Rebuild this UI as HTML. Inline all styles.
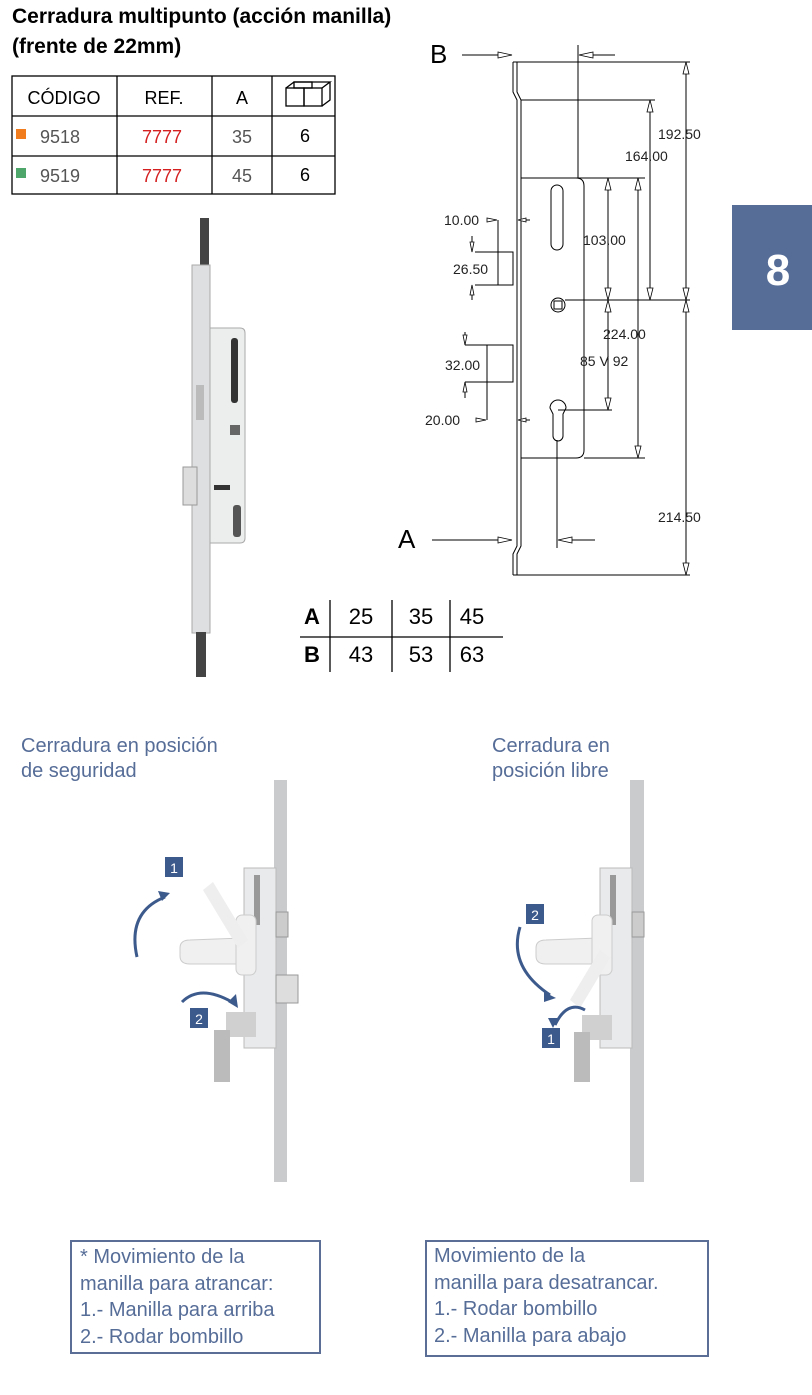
<!DOCTYPE html>
<html><head><meta charset="utf-8"><style>
body{margin:0;width:812px;height:1395px;background:#fff;position:relative;overflow:hidden;font-family:"Liberation Sans",Arial,sans-serif}
.t{position:absolute}
</style></head><body>
<div class="t" style="left:12px;top:2px;font-weight:bold;font-size:21px;line-height:30px;color:#000">Cerradura multipunto (acción manilla)<br>(frente de 22mm)</div>
<svg width="812" height="1395" style="position:absolute;left:0;top:0" font-family="Liberation Sans, Arial, sans-serif">
<g stroke="#000" stroke-width="1.3" fill="none">
<rect x="12" y="76" width="323" height="118"/>
<line x1="12" y1="116" x2="335" y2="116"/><line x1="12" y1="156" x2="335" y2="156"/>
<line x1="117" y1="76" x2="117" y2="194"/><line x1="212" y1="76" x2="212" y2="194"/><line x1="272" y1="76" x2="272" y2="194"/>
<rect x="286" y="88" width="18" height="18"/><rect x="304" y="88" width="18" height="18"/><path d="M286 88 l8 -6 h36 l-8 6 M330 82 v18 l-8 6"/>
<rect x="294" y="82" width="18" height="6"/>
</g>
<g font-size="18" text-anchor="middle">
<text x="64" y="104">CÓDIGO</text><text x="164" y="104">REF.</text><text x="242" y="104">A</text>
<text x="60" y="143" fill="#555">9518</text><text x="162" y="143" fill="#d42020">7777</text><text x="242" y="143" fill="#555">35</text><text x="305" y="142">6</text>
<text x="60" y="182" fill="#555">9519</text><text x="162" y="182" fill="#d42020">7777</text><text x="242" y="182" fill="#555">45</text><text x="305" y="181">6</text>
</g>
<rect x="16" y="129" width="10" height="10" fill="#f07c1e"/><rect x="16" y="168" width="10" height="10" fill="#4fa66a"/>
<rect x="732" y="205" width="80" height="125" fill="#566d98"/>
<text x="778" y="285" font-size="44" font-weight="bold" fill="#fff" text-anchor="middle">8</text>
<!-- lock photo left -->
<g>
<path d="M200 218 h9 v48 h-9z" fill="#444"/>
<rect x="192" y="265" width="18" height="368" fill="#dedfe0" stroke="#aaa"/>
<path d="M210 328 h30 q5 0 5 5 v205 q0 5 -5 5 h-30z" fill="#eceded" stroke="#aaa"/>
<rect x="231" y="338" width="7" height="65" rx="3" fill="#333"/>
<rect x="196" y="385" width="8" height="35" fill="#bbb"/>
<rect x="183" y="467" width="14" height="38" fill="#ddd" stroke="#999"/>
<rect x="230" y="425" width="10" height="10" fill="#666"/>
<rect x="214" y="485" width="16" height="5" fill="#333"/>
<rect x="233" y="505" width="8" height="32" rx="3" fill="#555"/>
<path d="M196 632 h10 v45 h-10z" fill="#444"/>
</g>
<g stroke="#000" stroke-width="1" fill="none">
<path d="M513 62 v30 l4 8 v446 l-4 8 v21 M517 62 v30 l4 8 v446 l-4 8 v21"/>
<line x1="513" y1="62" x2="517" y2="62"/><line x1="513" y1="575" x2="517" y2="575"/>
<line x1="517" y1="62" x2="690" y2="62"/>
<line x1="521" y1="100" x2="655" y2="100"/>
<path d="M521 178 h55 q8 0 8 8 v264 q0 8 -8 8 h-55"/>
<line x1="576" y1="178" x2="615" y2="178"/><line x1="584" y1="178" x2="645" y2="178"/>
<line x1="584" y1="458" x2="645" y2="458"/>
<rect x="551" y="185" width="12" height="65" rx="6"/>
<circle cx="558" cy="305" r="7"/><rect x="554" y="301" width="8" height="8"/>
<line x1="565" y1="300" x2="690" y2="300"/>
<path d="M558 400 a8 8 0 0 1 8 8 l-3 6 v22 a5 5 0 0 1 -10 0 v-22 l-3 -6 a8 8 0 0 1 8 -8z"/>
<line x1="558" y1="410" x2="612" y2="410"/>
<line x1="557" y1="440" x2="557" y2="548"/>
<line x1="578" y1="45" x2="578" y2="178"/>
<line x1="517" y1="575" x2="690" y2="575"/>
<line x1="686" y1="62" x2="686" y2="575"/>
<line x1="650" y1="100" x2="650" y2="300"/>
<line x1="608" y1="178" x2="608" y2="410"/>
<line x1="638" y1="178" x2="638" y2="458"/>
<line x1="462" y1="55" x2="512" y2="55"/><line x1="582" y1="55" x2="615" y2="55"/>
<line x1="432" y1="540" x2="512" y2="540"/><line x1="560" y1="540" x2="595" y2="540"/>
<rect x="498" y="252" width="15" height="33"/>
<line x1="475" y1="252" x2="513" y2="252"/><line x1="475" y1="285" x2="513" y2="285"/>
<line x1="498" y1="220" x2="498" y2="252"/>
<rect x="487" y="345" width="26" height="37"/>
<line x1="465" y1="345" x2="487" y2="345"/><line x1="465" y1="382" x2="487" y2="382"/>
<line x1="487" y1="382" x2="487" y2="420"/>
<line x1="472" y1="236" x2="472" y2="252"/><line x1="472" y1="285" x2="472" y2="300"/>
<line x1="465" y1="332" x2="465" y2="345"/><line x1="465" y1="382" x2="465" y2="398"/>
<line x1="520" y1="220" x2="530" y2="220"/><line x1="520" y1="420" x2="530" y2="420"/>
</g>
<g fill="#fff" stroke="#000" stroke-width="0.8">
<path d="M512 55 l-14 -3 v6z"/><path d="M579 55 l14 -3 v6z"/>
<path d="M512 540 l-14 -3 v6z"/><path d="M558 540 l14 -3 v6z"/>
<path d="M686 62 l-3 12 h6z"/><path d="M686 300 l-3 -12 h6z"/><path d="M686 300 l-3 12 h6z"/><path d="M686 575 l-3 -12 h6z"/>
<path d="M650 100 l-3 12 h6z"/><path d="M650 300 l-3 -12 h6z"/>
<path d="M608 178 l-3 12 h6z"/><path d="M608 300 l-3 -12 h6z"/><path d="M608 300 l-3 12 h6z"/><path d="M608 410 l-3 -12 h6z"/>
<path d="M638 178 l-3 12 h6z"/><path d="M638 458 l-3 -12 h6z"/>
<path d="M497 220 l-10 -2 v4z"/><path d="M518 220 l8 -2 v4z"/><path d="M486 420 l-10 -2 v4z"/><path d="M518 420 l8 -2 v4z"/>
<path d="M472 252 l-2 -10 h4z"/><path d="M472 285 l-2 10 h4z"/><path d="M465 345 l-2 -10 h4z"/><path d="M465 382 l-2 10 h4z"/>
</g>
<g font-size="14" fill="#222">
<text x="658" y="139">192.50</text><text x="625" y="161">164.00</text>
<text x="583" y="245">103.00</text><text x="603" y="339">224.00</text><text x="580" y="366">85 V 92</text>
<text x="658" y="522">214.50</text>
<text x="444" y="225">10.00</text><text x="453" y="274">26.50</text><text x="445" y="370">32.00</text><text x="425" y="425">20.00</text>
</g>
<text x="430" y="63" font-size="26">B</text><text x="398" y="548" font-size="26">A</text>
<g stroke="#000" stroke-width="1.3"><line x1="300" y1="637" x2="503" y2="637"/><line x1="330" y1="600" x2="330" y2="672"/><line x1="392" y1="600" x2="392" y2="672"/><line x1="450" y1="600" x2="450" y2="672"/></g>
<g font-size="22" text-anchor="middle"><text x="312" y="624" font-weight="bold">A</text><text x="312" y="662" font-weight="bold">B</text>
<text x="361" y="624">25</text><text x="421" y="624">35</text><text x="472" y="624">45</text>
<text x="361" y="662">43</text><text x="421" y="662">53</text><text x="472" y="662">63</text></g>
<g>
<rect x="274" y="780" width="13" height="402" fill="#c9cbcd"/>
<rect x="244" y="868" width="32" height="180" fill="#e9eaeb" stroke="#bbb"/>
<rect x="254" y="875" width="6" height="50" fill="#999"/>
<rect x="276" y="912" width="12" height="25" fill="#ccc" stroke="#999"/>
<rect x="276" y="975" width="22" height="28" fill="#ddd" stroke="#999"/>
<path d="M190 940 q-10 0 -10 8 v8 q0 8 10 8 h52 v-26z" fill="#f0f0f0" stroke="#ccc"/>
<rect x="236" y="915" width="20" height="60" rx="6" fill="#f0f0f0" stroke="#ccc"/>
<path d="M203 890 l10 -8 l35 58 l-10 8z" fill="#eee"/>
<rect x="226" y="1012" width="30" height="25" fill="#d0d0d0"/>
<rect x="214" y="1030" width="16" height="52" fill="#bbb"/>
<rect x="630" y="780" width="14" height="402" fill="#c9cbcd"/>
<rect x="600" y="868" width="32" height="180" fill="#e9eaeb" stroke="#bbb"/>
<rect x="610" y="875" width="6" height="50" fill="#999"/>
<rect x="632" y="912" width="12" height="25" fill="#ccc" stroke="#999"/>
<path d="M546 940 q-10 0 -10 8 v8 q0 8 10 8 h52 v-26z" fill="#f0f0f0" stroke="#ccc"/>
<rect x="592" y="915" width="20" height="60" rx="6" fill="#f0f0f0" stroke="#ccc"/>
<path d="M570 1000 l10 8 l30 -50 l-10 -8z" fill="#eee"/>
<rect x="582" y="1015" width="30" height="25" fill="#d0d0d0"/>
<rect x="574" y="1032" width="16" height="50" fill="#bbb"/>
</g>
<g stroke="#3d5a8c" stroke-width="3" fill="none">
<path d="M137 957 q-10 -45 28 -60"/><path d="M182 1002 q18 -18 50 0"/>
<path d="M520 927 q-12 40 30 68"/><path d="M585 1010 q-18 -10 -30 15"/>
</g>
<g fill="#3d5a8c">
<path d="M170 893 l-12 -2 l4 10z"/><path d="M238 1008 l-2 -14 l-8 8z"/><path d="M556 998 l-12 -6 l0 10z"/><path d="M553 1028 l-5 -10 l10 0z"/>
<rect x="165" y="857" width="18" height="20"/><rect x="190" y="1008" width="18" height="20"/>
<rect x="526" y="904" width="18" height="20"/><rect x="542" y="1028" width="18" height="20"/>
</g>
<g fill="#fff" font-size="14" text-anchor="middle"><text x="174" y="873">1</text><text x="199" y="1024">2</text><text x="535" y="920">2</text><text x="551" y="1044">1</text></g>
<rect x="71" y="1241" width="249" height="112" fill="none" stroke="#5a6e96" stroke-width="2"/>
<rect x="426" y="1241" width="282" height="115" fill="none" stroke="#5a6e96" stroke-width="2"/>
</svg>
<div class="t" style="left:21px;top:734px;font-size:20px;line-height:25px;color:#566d98">Cerradura en posición<br>de seguridad</div>
<div class="t" style="left:492px;top:734px;font-size:20px;line-height:25px;color:#566d98">Cerradura en<br>posición libre</div>
<div class="t" style="left:80px;top:1244px;font-size:20px;line-height:26.5px;color:#566d98">* Movimiento de la<br>manilla para atrancar:<br>1.- Manilla para arriba<br>2.- Rodar bombillo</div>
<div class="t" style="left:434px;top:1243px;font-size:20px;line-height:26.5px;color:#566d98">Movimiento de la<br>manilla para desatrancar.<br>1.- Rodar bombillo<br>2.- Manilla para abajo</div>
</body></html>
